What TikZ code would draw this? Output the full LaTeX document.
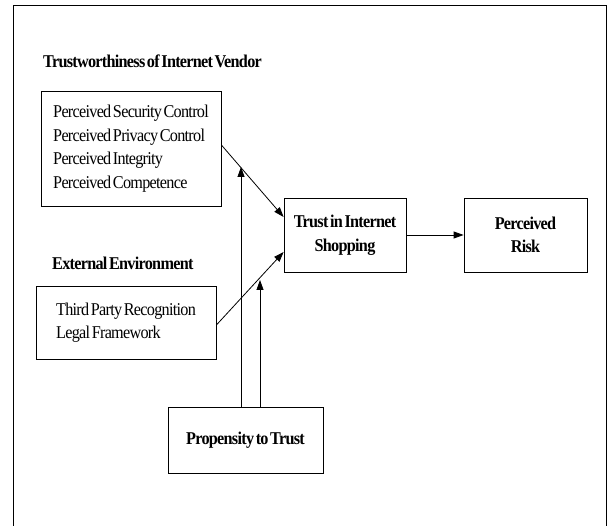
\documentclass[tikz,border=0pt]{standalone}
\usepackage{fontspec}
\setmainfont{Liberation Serif}[FakeStretch=0.9, LetterSpace=-4, WordSpace=0.5]
\usetikzlibrary{arrows.meta}
\newcommand\diafont{\fontsize{18}{23.5}\selectfont}

\begin{document}
\begin{tikzpicture}[
  x=1pt, y=-1pt,
  font=\diafont,
  factor/.style={draw, line width=0.8pt, align=left, inner sep=0pt,
                 minimum width=180pt},
  construct/.style={draw, line width=0.8pt, align=center,
                    font=\diafont\bfseries, minimum width=122pt,
                    minimum height=74pt},
  heading/.style={anchor=west, inner sep=0pt, font=\diafont\bfseries},
  arr/.style={line width=0.8pt, -{Triangle[length=10pt, width=7pt]}}
]
  \useasboundingbox (0,0) rectangle (610,526);
  \draw[line width=0.8pt] (13,526) -- (13,5) -- (606,5) -- (606,526);

  \node[heading] (vendorhead) at (43,61) {Trustworthiness of Internet Vendor};
  \node[factor, minimum height=115pt] (vendor) at (131,148.5)
    {Perceived Security Control\\ Perceived Privacy Control\\
     Perceived Integrity\\ Perceived Competence};
  \node[heading] (envhead) at (52,263) {External Environment};
  \node[factor, minimum height=73pt] (external) at (126,322.5)
    {Third Party Recognition\\ Legal Framework};
  \node[construct] (trust) at (345,235) {Trust in Internet\\ Shopping};
  \node[construct, minimum width=123pt] (risk) at (525.5,235) {Perceived\\ Risk};
  \node[construct, minimum width=155pt, minimum height=66pt]
    (propensity) at (245.5,440) {Propensity to Trust};

  \coordinate (upper) at (241,167);
  \coordinate (lower) at (260,280);

  \draw[arr] ([yshift=3.5pt]vendor.east) -- ([yshift=18pt]trust.west);
  \draw[arr] ([yshift=-2.5pt]external.east) -- ([yshift=-17pt]trust.west);
  \draw[arr] (trust) -- (risk);
  \draw[arr] (propensity.north -| upper) -- (upper);
  \draw[arr] (propensity.north -| lower) -- (lower);
\end{tikzpicture}
\end{document}
